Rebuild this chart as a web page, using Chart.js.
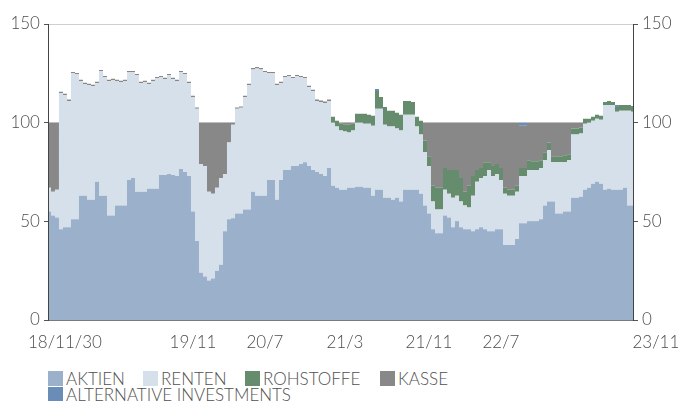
<!DOCTYPE html>
<html><head><meta charset="utf-8">
<script src="https://cdn.jsdelivr.net/npm/chart.js@4/dist/chart.umd.min.js"></script>
<style>
html,body{margin:0;padding:0;background:#fff;}
#wrap{position:relative;width:689px;height:401px;overflow:hidden;}
#c{position:absolute;left:0;top:0;}
.lg{position:absolute;font-family:Lato,sans-serif;font-weight:300;font-size:17px;color:#505050;line-height:16px;white-space:nowrap;}
.lg i{position:absolute;left:0;top:0;width:15px;height:15px;}
.lg span{position:absolute;left:18px;top:0;}
</style></head>
<body><div id="wrap"><canvas id="c" width="689" height="362"></canvas><div id="legend"></div></div>
<script>
const seriesNames = ['AKTIEN','RENTEN','ROHSTOFFE','KASSE','ALTERNATIVE INVESTMENTS'];
const tickLabels = ['18/11/30','19/11','20/7','21/3','21/11','22/7','   23/11'];
const tickIndex = [0,32,50,70,91,109,146];
const yTicks = [0,50,100,150];

const aktien = [
55,53,52,46,47,47,51,51,63,63,
61,61,70,63,63,53,53,58,58,58,
71,72,65,65,65,66.5,66.5,66.5,73.5,73.5,
74,73.5,73,76.5,75,73,55,40,24,22,
20,21,25,28,45,51,51.5,54,54,56,
56,65,63,63,63,71,71,61,71,76,
76,78,78,79,80,78,76,75,74,73,
77,68,67,66,66,67,67,67.5,67.5,67,
67,63,66,66,62,62,61,62,60,66,
66,66,66,64,58,54,46,44,44,53,
52,47,50,47,46,46,45,46,47,46,
45,45,46,46,38,38,38,41,49,49,
50,50,50,51,58,60,60,54,54,55,
55,62,62,62.5,66,67,69,70,69,66,
66.5,66,66,66,67,58,58];
const renten = [
12,12,14,69,67,64,74,73.5,58,56.5,
58,57.5,50,63,60,68,68.5,63,62.5,63,
54.5,53.5,59,55,55.5,53,54.5,56,49.5,48.5,
50,48.5,48,49,49.5,47,58,67,55,56,
45,43,42,44,29,39,47.5,53,53.5,57,
63,62,64.5,64,62.5,54,54,58,49,47,
47.5,44.5,45.5,44,42.5,40,40,36,36.5,37,
34,32,31,30,29.5,28,29,32.5,32.5,32.5,
32.5,35.5,41,41,37,36,37,35,36,38,
38,38,32,30,27,24,14,12,12,13,
12,15,13,13,12,11,18,24,25,27,
31,28,28,25,26,25,25,24,24,24,
26,26,26,26,23,26,20,26,26,25,
26,32,32,32,33.5,33,32,32,32.5,43,
42.5,43,39.5,40,39,48,47.5];
const rohstoffe = [
0,0,0,0,0,0,0,0,0,0,
0,0,0,0,0,0,0,0,0,0,
0,0,0,0,0,0,0,0,0,0,
0,0,0,0,0,0,0,0,0,0,
0,0,0,0,0,0,0,0,0,0,
0,0,0,0,0,0,0,0,0,0,
0,0,0,0,0,0,0,0,0,0,
0,3,3,3.5,3.5,4,3.5,4.5,4.5,5,
4.5,5,9,6,9,8,8,8,8,7,
7,6.5,5,7,6,5,8,11,11,11,
12,14,13,12,7,11,10,6,5,7,
4,5,5,6,3,3,3,3,4,4,
5,4.5,4.5,4,4,4,3,3,3,3.5,
3,3,3,3,2.5,2,2,2,2,1.5,
2,1.5,2.5,3,3,3,3];
const kasse = [
33,35,34,.7,.7,.7,.7,.7,.7,.7,
.7,.7,.7,.7,.7,.7,.7,.7,.7,.7,
.7,.7,.7,.7,.7,.7,.7,.7,.7,.7,
.7,.7,.7,.7,.7,.7,.7,.7,21,22,
35,36,33,28,26,10,1,.7,.7,.7,
.7,.7,.7,.7,.7,.7,.7,.7,.7,.7,
.7,.7,.7,.7,.7,.7,.7,.7,.7,.7,
.7,0,0,.5,1,1,.5,0,0,0,
0,0,0,0,0,0,0,0,0,0,
0,0,0,0,9,17,32,33,33,23,
24,24,24,28,35,32,27,24,23,20,
20,22,21,23,33,34,34,32,21.5,21.5,
19,19.5,19.5,19,15,10,17,17,17,16.5,
16,3,3,2.5,0,0,0,0,0,0,
0,0,0,0,0,0,0];
const alternative = [
0,0,0,0,0,0,0,0,0,0,
0,0,0,0,0,0,0,0,0,0,
0,0,0,0,0,0,0,0,0,0,
0,0,0,0,0,0,0,0,0,0,
0,0,0,0,0,0,0,0,0,0,
0,0,0,0,0,0,0,0,0,0,
0,0,0,0,0,0,0,0,0,0,
0,0,0,0,0,0,0,0,0,0,
0,0,1,0,0,0,0,0,0,0,
0,0,0,0,0,0,0,0,0,0,
0,0,0,0,0,0,0,0,0,0,
0,0,0,0,0,0,0,0,1.5,1.5,
0,0,0,0,0,0,0,0,0,0,
0,0,0,0,0,0,0,0,0,0,
0,0,1,0,0,0,0];

const colors = ['#9AB0CB','#D6E0EA','#658C6C','#888888','#6A8DB8'];
const seriesData = [aktien, renten, rohstoffe, kasse, alternative];

const categories = aktien.map((_, i) => {
  const k = tickIndex.indexOf(i);
  return k >= 0 ? tickLabels[k] : '';
});

const tickFont = {family:'Lato', size:17, weight:'300'};
const datasets = seriesData.map((d, i) => ({
  label: seriesNames[i],
  data: d,
  backgroundColor: colors[i],
  borderWidth: 0,
  pointRadius: 0,
  stepped: 'middle',
  fill: i === 0 ? 'origin' : '-1'
}));

new Chart(document.getElementById('c'), {
  type: 'line',
  data: {labels: categories, datasets},
  options: {
    responsive: false,
    animation: false,
    devicePixelRatio: 1,
    layout: {padding: {top: 24, left: 0, right: 0, bottom: 0}},
    plugins: {legend: {display: false}, tooltip: {enabled: false}},
    elements: {line: {tension: 0}},
    scales: {
      x: {
        type: 'category',
        offset: false,
        grid: {display: false, drawTicks: false},
        border: {display: true, color: '#7a7a7a', width: 2},
        ticks: {autoSkip: false, maxRotation: 0, minRotation: 0, padding: 12, labelOffset: 16,
          color: '#4d4d4d', font: tickFont,
          callback: (v, i) => categories[i] === '' ? null : categories[i]},
        afterFit: s => { s.height = 42; }
      },
      y: {
        stacked: true, position: 'left', min: 0, max: 150,
        afterBuildTicks: s => { s.ticks = yTicks.map(v => ({value: v})); },
        grid: {color: '#cfcfcf', tickColor: '#555', tickLength: 5, drawTicks: true},
        border: {color: '#444', width: 1},
        ticks: {color: '#4d4d4d', font: tickFont, padding: 4},
        afterFit: s => { s.width = 47; }
      },
      y2: {
        position: 'right', min: 0, max: 150,
        afterBuildTicks: s => { s.ticks = yTicks.map(v => ({value: v})); },
        grid: {drawOnChartArea: false, tickColor: '#555', tickLength: 5, drawTicks: true},
        border: {color: '#444', width: 1},
        ticks: {color: '#4d4d4d', font: tickFont, padding: 4},
        afterFit: s => { s.width = 56; }
      }
    }
  }
});

const legendPos = [[48,371],[143,371],[245,371],[380,371],[48,387]];
const lg = document.getElementById('legend');
seriesNames.forEach((n, i) => {
  const d = document.createElement('div');
  d.className = 'lg';
  d.style.left = legendPos[i][0] + 'px';
  d.style.top = legendPos[i][1] + 'px';
  d.innerHTML = '<i style="background:' + colors[i] + '"></i><span>' + n + '</span>';
  lg.appendChild(d);
});
</script>
</body></html>
